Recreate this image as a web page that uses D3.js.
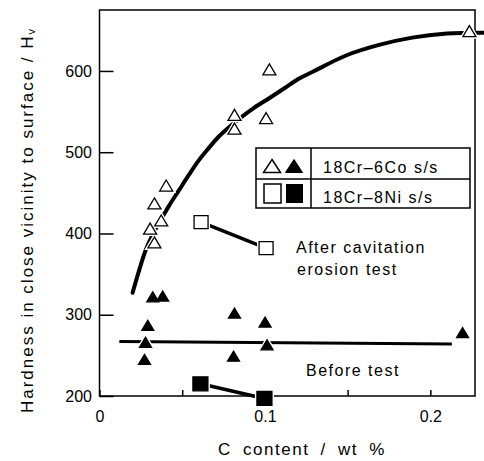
<!DOCTYPE html>
<html>
<head>
<meta charset="utf-8">
<title>Hardness vs C content</title>
<script src="https://cdn.jsdelivr.net/npm/d3@7"></script>
<style>
    body { margin: 0; background: #fff; }
    svg { display: block; font-family: "Liberation Sans", Arial, sans-serif; }
</style>
</head>
<body>
<svg width="484" height="461"></svg>
<script>
// 18Cr-6Co, after cavitation erosion test (open triangles)
var coAfterX = [0.2236, 0.1027, 0.0816, 0.0816, 0.1007, 0.0403, 0.0332, 0.0373, 0.0306, 0.0332];
var coAfterY = [649, 602, 546, 529, 542, 459, 437, 416, 406, 389];
// 18Cr-6Co, before test (filled triangles)
var coBeforeX = [0.0322, 0.0382, 0.0292, 0.0278, 0.0272, 0.0816, 0.0810, 0.1001, 0.1013, 0.2195];
var coBeforeY = [322, 323, 287, 266, 245, 302, 249, 291, 263, 278];
// 18Cr-8Ni (squares)
var niAfterX = [0.0614, 0.1007];
var niAfterY = [414, 382];
var niBeforeX = [0.0610, 0.0997];
var niBeforeY = [215, 197];
// hand-drawn trend lines
var fitAfterX = [0.020, 0.024, 0.028, 0.032, 0.036, 0.042, 0.048, 0.054, 0.060, 0.066, 0.072, 0.079, 0.085, 0.093, 0.103, 0.112, 0.121, 0.129, 0.149, 0.169, 0.189, 0.210, 0.232];
var fitAfterY = [327, 355, 380, 398, 413, 434, 453, 472, 490, 505, 519, 532, 542, 554, 567, 579, 591, 599, 619, 632, 641, 646, 647];
var fitBeforeX = [0.012, 0.213];
var fitBeforeY = [267, 264];
// axes
var yTicks = [200, 300, 400, 500, 600];
var xTicks = [0, 0.05, 0.1, 0.15, 0.2];
var xLabels = ["0", "", "0.1", "", "0.2"];

var svg = d3.select("svg");
var x = d3.scaleLinear().domain([0, 0.227]).range([99.5, 475]);
var y = d3.scaleLinear().domain([200, 675]).range([396, 10]);

function zip(xs, ys) { return xs.map(function(v, i) { return [v, ys[i]]; }); }

// triangle centred on its box
function tri(w, h) {
    return "M0," + (-h / 2) + "L" + (w / 2) + "," + (h / 2) + "L" + (-w / 2) + "," + (h / 2) + "Z";
}

// frame
svg.append("rect")
    .attr("x", x(0)).attr("y", y(675))
    .attr("width", x(0.227) - x(0)).attr("height", y(200) - y(675))
    .attr("fill", "none").attr("stroke", "#000").attr("stroke-width", 1.5);

// y axis, inward ticks
var yAxis = svg.append("g")
    .attr("transform", "translate(" + x(0) + ",0)")
    .call(d3.axisLeft(y).tickValues(yTicks).tickSize(-14).tickPadding(7.5));
yAxis.select(".domain").remove();
yAxis.selectAll("line").attr("stroke-width", 1.5);
yAxis.selectAll("text").attr("font-size", 16).attr("font-family", "Liberation Sans, Arial, sans-serif").attr("fill", "#000");

// x axis
var xAxis = svg.append("g")
    .attr("transform", "translate(0," + y(200) + ")")
    .call(d3.axisBottom(x).tickValues(xTicks).tickSize(-6).tickPadding(14.5)
        .tickFormat(function(d, i) { return xLabels[i]; }));
xAxis.select(".domain").remove();
xAxis.selectAll("line").attr("stroke-width", 1.5);
xAxis.selectAll("text").attr("font-size", 16).attr("font-family", "Liberation Sans, Arial, sans-serif").attr("fill", "#000");

// axis titles
svg.append("text")
    .attr("x", 302).attr("y", 455)
    .attr("text-anchor", "middle")
    .attr("font-size", 17).attr("letter-spacing", 1.5).attr("word-spacing", 5)
    .text("C content / wt %");

var yt = svg.append("text")
    .attr("transform", "translate(33,220) rotate(-90)")
    .attr("text-anchor", "middle")
    .attr("font-size", 17).attr("letter-spacing", 2);
yt.append("tspan").text("Hardness in close vicinity to surface / H");
yt.append("tspan").attr("font-size", 11).attr("dy", 2).text("v");

// trend lines
var line = d3.line().x(function(d) { return x(d[0]); }).y(function(d) { return y(d[1]); });
svg.append("path")
    .datum(zip(fitAfterX, fitAfterY))
    .attr("d", line.curve(d3.curveCatmullRom))
    .attr("fill", "none").attr("stroke", "#000").attr("stroke-width", 4).attr("stroke-linecap", "round");
svg.append("path")
    .datum(zip(fitBeforeX, fitBeforeY))
    .attr("d", line.curve(d3.curveLinear))
    .attr("fill", "none").attr("stroke", "#000").attr("stroke-width", 3);
svg.append("path")
    .datum(zip(niAfterX, niAfterY))
    .attr("d", line)
    .attr("fill", "none").attr("stroke", "#000").attr("stroke-width", 3.5);
svg.append("path")
    .datum(zip(niBeforeX, niBeforeY))
    .attr("d", line)
    .attr("fill", "none").attr("stroke", "#000").attr("stroke-width", 3.5);

// markers, with a white halo so lines break around them
function markers(pts, shape, fill) {
    var g = svg.append("g");
    g.selectAll("path.halo").data(pts).enter().append("path")
        .attr("class", "halo")
        .attr("d", shape)
        .attr("transform", function(d) { return "translate(" + x(d[0]) + "," + y(d[1]) + ")"; })
        .attr("fill", "#fff").attr("stroke", "#fff").attr("stroke-width", 4);
    g.selectAll("path.mk").data(pts).enter().append("path")
        .attr("class", "mk")
        .attr("d", shape)
        .attr("transform", function(d) { return "translate(" + x(d[0]) + "," + y(d[1]) + ")"; })
        .attr("fill", fill).attr("stroke", "#000").attr("stroke-width", 1.3);
}
var sq = "M-7,-6.5H7V6.5H-7Z";
markers(zip(coAfterX, coAfterY), tri(13, 11), "#fff");
markers(zip(coBeforeX, coBeforeY), tri(12, 10), "#000");
markers(zip(niAfterX, niAfterY), sq, "#fff");
markers(zip(niBeforeX, niBeforeY), "M-7.5,-7H7.5V7H-7.5Z", "#000");

// legend
var lg = svg.append("g");
lg.append("rect").attr("x", 256).attr("y", 148).attr("width", 214).attr("height", 60)
    .attr("fill", "#fff").attr("stroke", "#000").attr("stroke-width", 1.5);
lg.append("line").attr("x1", 256).attr("x2", 470).attr("y1", 179).attr("y2", 179)
    .attr("stroke", "#000").attr("stroke-width", 1.5);
lg.append("line").attr("x1", 311).attr("x2", 311).attr("y1", 148).attr("y2", 208)
    .attr("stroke", "#000").attr("stroke-width", 1.5);
lg.append("path").attr("d", tri(17, 13)).attr("transform", "translate(272,166)")
    .attr("fill", "#fff").attr("stroke", "#000").attr("stroke-width", 1.5);
lg.append("path").attr("d", tri(17, 13)).attr("transform", "translate(294,166)")
    .attr("fill", "#000").attr("stroke", "#000").attr("stroke-width", 1);
lg.append("rect").attr("x", 264).attr("y", 184).attr("width", 17).attr("height", 19)
    .attr("fill", "#fff").attr("stroke", "#000").attr("stroke-width", 1.5);
lg.append("rect").attr("x", 286).attr("y", 184).attr("width", 17).attr("height", 19)
    .attr("fill", "#000");
lg.append("text").attr("x", 323).attr("y", 173).attr("font-size", 16).attr("letter-spacing", 1.5)
    .text("18Cr\u20136Co s/s");
lg.append("text").attr("x", 323).attr("y", 203).attr("font-size", 16).attr("letter-spacing", 1.5)
    .text("18Cr\u20138Ni s/s");

// annotations
svg.append("text").attr("x", 296).attr("y", 253).attr("font-size", 16).attr("letter-spacing", 1.5)
    .text("After cavitation");
svg.append("text").attr("x", 297).attr("y", 275).attr("font-size", 16).attr("letter-spacing", 1.5)
    .text("erosion test");
svg.append("text").attr("x", 306).attr("y", 376).attr("font-size", 16).attr("letter-spacing", 1.5)
    .text("Before test");
</script>
</body>
</html>
